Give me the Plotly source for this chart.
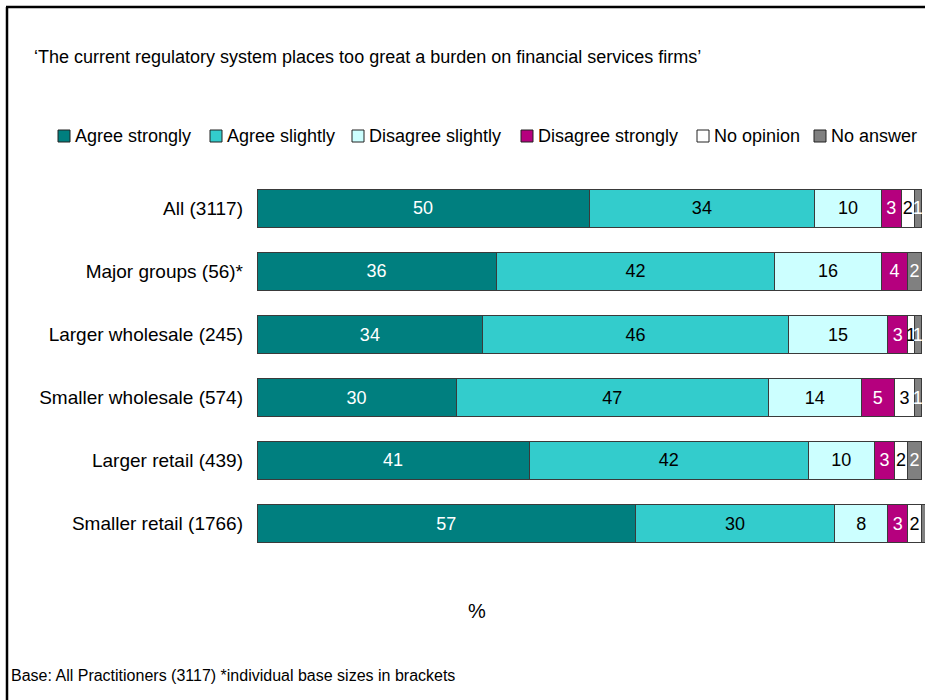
import plotly.graph_objects as go

# ---- data ----
groups = [
    "All (3117)",
    "Major groups (56)*",
    "Larger wholesale (245)",
    "Smaller wholesale (574)",
    "Larger retail (439)",
    "Smaller retail (1766)",
]
series_names = [
    "Agree strongly",
    "Agree slightly",
    "Disagree slightly",
    "Disagree strongly",
    "No opinion",
    "No answer",
]
agree_strongly = [50, 36, 34, 30, 41, 57]
agree_slightly = [34, 42, 46, 47, 42, 30]
disagree_slightly = [10, 16, 15, 14, 10, 8]
disagree_strongly = [3, 4, 3, 5, 3, 3]
no_opinion = [2, 0, 1, 3, 2, 2]
no_answer = [1, 2, 1, 1, 2, 1]

title_text = "\u2018The current regulatory system places too great a burden on financial services firms\u2019"
axis_text = "%"
note_text = "Base: All Practitioners (3117) *individual base sizes in brackets"

# ---- styling ----
W, H = 925, 700
colors = ["#007F7F", "#33CCCC", "#CCFFFF", "#B5007E", "#FFFFFF", "#808080"]
text_colors = ["white", "black", "black", "white", "black", "white"]
FONT = "Arial, Liberation Sans, sans-serif"

series_values = [agree_strongly, agree_slightly, disagree_slightly,
                 disagree_strongly, no_opinion, no_answer]


def px_x(v):
    return v / W


def px_y(v):
    return 1 - v / H


fig = go.Figure()
for name, vals, col, tcol in zip(series_names, series_values, colors, text_colors):
    fig.add_trace(go.Bar(
        y=groups,
        x=vals,
        name=name,
        orientation="h",
        marker=dict(color=col, line=dict(color="#3a3a3a", width=1)),
        text=[str(v) if v else "" for v in vals],
        textposition="inside",
        insidetextanchor="middle",
        insidetextfont=dict(color=tcol, size=18, family=FONT),
        constraintext="none",
        cliponaxis=False,
        showlegend=False,
        hoverinfo="skip",
    ))

# hand-built legend row: small outlined squares followed by labels
legend_x = [58, 210, 352, 521, 697, 814]
legend_y = 136
shapes = []
annotations = []
for name, col, lx in zip(series_names, colors, legend_x):
    shapes.append(dict(
        type="rect", xref="paper", yref="paper",
        x0=px_x(lx), x1=px_x(lx + 12),
        y0=px_y(legend_y + 6), y1=px_y(legend_y - 6),
        fillcolor=col, line=dict(color="#222222", width=1),
    ))
    annotations.append(dict(
        xref="paper", yref="paper", x=px_x(lx + 15), y=px_y(legend_y),
        text=name, showarrow=False, xanchor="left", yanchor="middle",
        font=dict(size=18, color="black", family=FONT),
    ))

# frame lines on the left and top
shapes.append(dict(type="line", xref="paper", yref="paper",
                   x0=px_x(7), x1=px_x(7), y0=px_y(7), y1=px_y(705),
                   line=dict(color="black", width=2.5)))
shapes.append(dict(type="line", xref="paper", yref="paper",
                   x0=px_x(6), x1=px_x(930), y0=px_y(7), y1=px_y(7),
                   line=dict(color="black", width=2.5)))

annotations.append(dict(
    xref="paper", yref="paper", x=px_x(32), y=px_y(57),
    text=title_text, showarrow=False, xanchor="left", yanchor="middle",
    font=dict(size=18, color="black", family=FONT),
))
annotations.append(dict(
    xref="paper", yref="paper", x=px_x(477), y=px_y(611),
    text=axis_text, showarrow=False, xanchor="center", yanchor="middle",
    font=dict(size=20, color="black", family=FONT),
))
annotations.append(dict(
    xref="paper", yref="paper", x=px_x(9), y=px_y(675),
    text=note_text, showarrow=False, xanchor="left", yanchor="middle",
    font=dict(size=16, color="black", family=FONT),
))

fig.update_layout(
    width=W, height=H,
    margin=dict(l=0, r=0, t=0, b=0),
    paper_bgcolor="white", plot_bgcolor="white",
    barmode="stack",
    bargap=0.41,
    showlegend=False,
    uniformtext=dict(mode="show", minsize=18),
    font=dict(family=FONT, color="black"),
    shapes=shapes,
    annotations=annotations,
    xaxis=dict(
        domain=[px_x(257), 1],
        range=[0, 100.6],
        showticklabels=False, showgrid=False, zeroline=False,
        showline=False, ticks="",
    ),
    yaxis=dict(
        domain=[px_y(555), px_y(177)],
        autorange="reversed",
        showgrid=False, zeroline=False, showline=False, ticks="",
        tickfont=dict(size=19, color="black", family=FONT),
        ticklabelstandoff=13,
    ),
)

fig.write_html("out.html")
